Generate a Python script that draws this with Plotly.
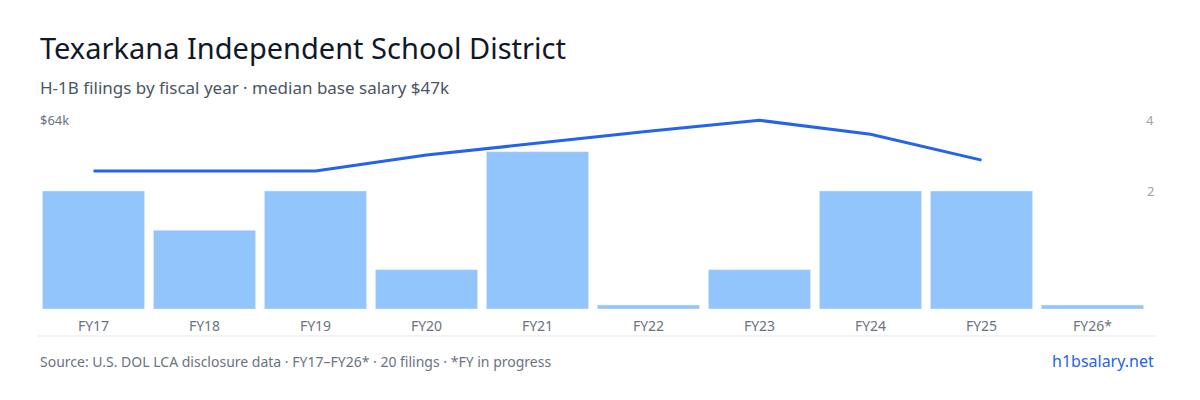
import plotly.graph_objects as go

years = ["FY17","FY18","FY19","FY20","FY21","FY22","FY23","FY24","FY25","FY26*"]
filings = [3, 2, 3, 1, 4, 0, 1, 3, 3, 0]
salary_k = [46.8, 46.8, 46.8, 52.2, 56.3, 60.3, 64.0, 59.3, 50.5, None]

shown = [v if v > 0 else 0.1 for v in filings]

H, T, B, L, R = 400, 102, 99, 30, 60
OX, OY = 10, 8  # page offset

fig = go.Figure()
fig.add_bar(x=years, y=shown, marker_color="#93c5fd", width=0.92, yaxis="y", hoverinfo="skip")
fig.add_scatter(x=years, y=salary_k, mode="lines", line=dict(color="#2563eb", width=3),
                yaxis="y2", connectgaps=False)

font = "Noto Sans"
fig.update_layout(
    width=1200, height=400, margin=dict(l=L, r=R, t=T, b=B),
    paper_bgcolor="white", plot_bgcolor="white", showlegend=False, bargap=0.08,
    font=dict(family=font, color="#6b7280", size=14),
    xaxis=dict(showgrid=False, ticks="", tickfont=dict(size=14, color="#6b7280"), showline=False,
               ticklabelstandoff=7),
    yaxis=dict(range=[0, 5.06], showgrid=False, showticklabels=False, zeroline=False),
    yaxis2=dict(range=[0, 67.5], overlaying="y", showgrid=False, showticklabels=False, zeroline=False),
)
ph = H - T - B
pw = 1200 - L - R
def px(x): return (x - OX - L) / pw
def py(y): return (H - B - (y - OY)) / ph
anns = [
    dict(text="Texarkana Independent School District", x=px(40), y=py(47), xanchor="left", yanchor="middle",
         font=dict(size=29, color="#111827", family=font)),
    dict(text="H-1B filings by fiscal year · median base salary $47k", x=px(40), y=py(87), xanchor="left",
         yanchor="middle", font=dict(size=17, color="#4b5563", family=font)),
    dict(text="Source: U.S. DOL LCA disclosure data · FY17–FY26* · 20 filings · *FY in progress", x=px(40),
         y=py(361), xanchor="left", yanchor="middle", font=dict(size=14, color="#6b7280", family=font)),
    dict(text="h1bsalary.net", x=px(1158), y=py(361), xanchor="right", yanchor="middle",
         font=dict(size=16, color="#2563eb", family=font)),
    dict(text="$64k", x=px(40), y=py(120), xanchor="left", yanchor="middle",
         font=dict(size=13, color="#6b7280", family=font)),
    dict(text="4", x=px(1158), y=py(120), xanchor="right", yanchor="middle",
         font=dict(size=13, color="#9ca3af", family=font)),
    dict(text="2", x=px(1158), y=py(191), xanchor="right", yanchor="middle",
         font=dict(size=13, color="#9ca3af", family=font)),
]
for a in anns:
    a.update(xref="paper", yref="paper", showarrow=False)
fig.update_layout(annotations=anns)
fig.add_shape(type="line", xref="paper", yref="paper", x0=px(40), x1=px(1158), y0=py(336), y1=py(336),
              line=dict(color="#e5e7eb", width=1))

fig.write_html("out.html")
